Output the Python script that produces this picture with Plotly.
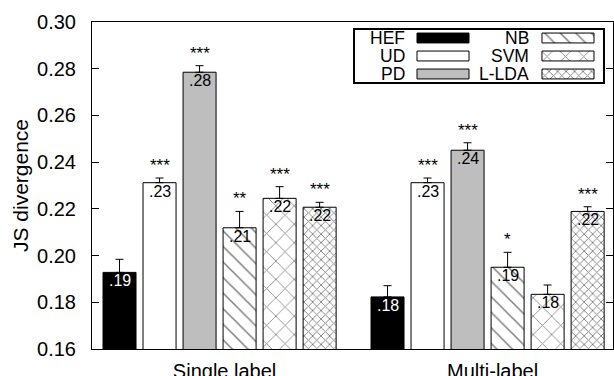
import plotly.graph_objects as go

# ---------------- data ----------------
categories = ["Single label", "Multi-label"]
methods = ["HEF", "UD", "PD", "NB", "SVM", "L-LDA"]

hef = [0.1928, 0.1823]
ud = [0.2312, 0.2312]
pd_ = [0.2785, 0.2451]
nb = [0.2119, 0.1950]
svm = [0.2245, 0.1834]
llda = [0.2207, 0.2189]

hef_err = [0.0056, 0.0048]
ud_err = [0.0020, 0.0020]
pd_err = [0.0028, 0.0032]
nb_err = [0.0070, 0.0064]
svm_err = [0.0050, 0.0040]
llda_err = [0.0021, 0.0020]

hef_lbl = [".19", ".18"]
ud_lbl = [".23", ".23"]
pd_lbl = [".28", ".24"]
nb_lbl = [".21", ".19"]
svm_lbl = [".22", ".18"]
llda_lbl = [".22", ".22"]

hef_sig = ["", ""]
ud_sig = ["***", "***"]
pd_sig = ["***", "***"]
nb_sig = ["**", "*"]
svm_sig = ["***", ""]
llda_sig = ["***", "***"]

y_ticks = [0.16, 0.18, 0.20, 0.22, 0.24, 0.26, 0.28, 0.30]

values = [hef, ud, pd_, nb, svm, llda]
errors = [hef_err, ud_err, pd_err, nb_err, svm_err, llda_err]
labels = [hef_lbl, ud_lbl, pd_lbl, nb_lbl, svm_lbl, llda_lbl]
sigs = [hef_sig, ud_sig, pd_sig, nb_sig, svm_sig, llda_sig]

# ---------------- styles ----------------
FONT = "Liberation Sans, Arial, sans-serif"
styles = {
    "HEF": dict(color="black", pattern=None, txt="white"),
    "UD": dict(color="white", pattern=None, txt="black"),
    "PD": dict(color="#bebebe", pattern=None, txt="black"),
    "NB": dict(color="white", pattern=dict(shape="\\", size=11, solidity=0.14,
                                             fgcolor="black", bgcolor="white"), txt="black"),
    "SVM": dict(color="white", pattern=dict(shape="x", size=13, solidity=0.12,
                                              fgcolor="black", bgcolor="white"), txt="black"),
    "L-LDA": dict(color="white", pattern=dict(shape="x", size=6, solidity=0.28,
                                                fgcolor="black", bgcolor="white"), txt="black"),
}

BARGAP = 0.104
GROUPGAP = 0.175

fig = go.Figure()

for m, v, e in zip(methods, values, errors):
    st = styles[m]
    marker = dict(color=st["color"], line=dict(color="black", width=1))
    if st["pattern"]:
        marker["pattern"] = st["pattern"]
    fig.add_trace(go.Bar(
        name=m, x=categories, y=v, marker=marker,
        error_y=dict(type="data", array=e, arrayminus=[0] * len(e), symmetric=False,
                     color="black", thickness=1, width=4),
        showlegend=False,
    ))

# value labels inside bar tops and significance stars above error bars
n = len(methods)
slot = (1 - BARGAP) / n
annotations = []
for i, (m, v, e, lb, s) in enumerate(zip(methods, values, errors, labels, sigs)):
    for c in range(len(categories)):
        xc = c + (i - (n - 1) / 2) * slot
        annotations.append(dict(
            x=xc, y=v[c], xref="x", yref="y", text=lb[c], showarrow=False,
            yanchor="top", yshift=2,
            font=dict(size=16, color=styles[m]["txt"], family=FONT)))
        if s[c]:
            annotations.append(dict(
                x=xc, y=v[c] + e[c], xref="x", yref="y",
                text=s[c], showarrow=False, yanchor="bottom", yshift=1,
                font=dict(size=17, color="black", family=FONT)))

# ---------------- legend (custom inset) ----------------
leg_x = [0.5029, 0.9827]
leg_y = [0.8135, 0.9786]
leg_col_text = [53, 177]
leg_col_swatch = [63, 188]
swatch_len = 52
for i, m in enumerate(methods):
    col, row = divmod(i, 3)
    st = styles[m]
    marker = dict(color=st["color"], line=dict(color="black", width=1))
    if st["pattern"]:
        marker["pattern"] = dict(st["pattern"])
    fig.add_trace(go.Bar(
        x=[swatch_len], y=[row], base=[leg_col_swatch[col]], orientation="h",
        xaxis="x2", yaxis="y2", marker=marker, width=0.55,
        offsetgroup="legend", showlegend=False, hoverinfo="skip"))
    annotations.append(dict(
        x=leg_col_text[col], y=row, xref="x2", yref="y2", text=m,
        showarrow=False, xanchor="right", yanchor="middle", height=17,
        font=dict(size=17.5, color="black", family=FONT)))

fig.update_layout(
    width=614, height=376,
    margin=dict(l=92, r=1, t=22, b=27),
    paper_bgcolor="white", plot_bgcolor="white",
    barmode="group", bargap=BARGAP, bargroupgap=GROUPGAP,
    font=dict(family=FONT, color="black"),
    showlegend=False,
    xaxis=dict(
        type="category", range=[-0.476, 1.468], automargin=False,
        showline=True, linecolor="black", linewidth=1, mirror=True,
        ticks="", showgrid=False, zeroline=False,
        tickfont=dict(size=20, family=FONT, color="black"),
        ticklabelshift=5, ticklabelstandoff=4,
    ),
    yaxis=dict(
        range=[0.16, 0.30], tickvals=y_ticks, tickformat=".2f", automargin=False,
        showline=True, linecolor="black", linewidth=1, mirror="ticks",
        ticks="inside", ticklen=7, tickcolor="black",
        showgrid=False, zeroline=False,
        tickfont=dict(size=20, family=FONT, color="black"),
        ticklabelstandoff=11,
        title=dict(text="JS divergence", font=dict(size=21, family=FONT, color="black"),
                   standoff=2),
    ),
    xaxis2=dict(domain=leg_x, range=[0, 250], anchor="y2", visible=False, fixedrange=True),
    yaxis2=dict(domain=leg_y, range=[2.5, -0.5], anchor="x2", visible=False, fixedrange=True),
    shapes=[dict(type="rect", xref="paper", yref="paper",
                 x0=leg_x[0], x1=leg_x[1], y0=leg_y[0], y1=leg_y[1],
                 line=dict(color="black", width=2), fillcolor="rgba(0,0,0,0)")],
    annotations=annotations,
)

fig.write_html("out.html", config={"displayModeBar": False},
               post_script="document.body.style.margin='0';document.body.style.padding='0';")
